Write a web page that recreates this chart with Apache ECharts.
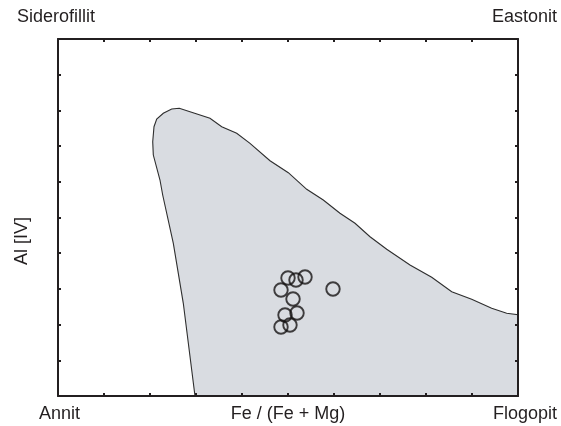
<!DOCTYPE html>
<html>
<head>
<meta charset="utf-8">
<script src="https://cdn.jsdelivr.net/npm/echarts@6/dist/echarts.min.js"></script>
<style>
html,body{margin:0;padding:0;background:#fff;}
#chart{width:561px;height:426px;}
</style>
</head>
<body>
<div id="chart"></div>
<script>
// Field outline (Fe/(Fe+Mg), Al[IV]) in axis units 0..1
const fieldX = [0.2978,0.2724,0.2507,0.2276,0.2217,0.2072,0.2059,0.2087,0.2146,0.2289,0.2472,0.2637,0.2870,0.3304,0.3559,0.3885,0.4174,0.4609,0.5007,0.5407,0.5767,0.6130,0.6457,0.6783,0.7146,0.7652,0.8124,0.8559,0.8993,0.9428,0.9754,1.0,1.0];
const fieldY = [0.0,0.2597,0.4277,0.5630,0.6050,0.6750,0.7123,0.7543,0.7759,0.7919,0.8039,0.8059,0.7964,0.7779,0.7543,0.7359,0.7078,0.6591,0.6255,0.5790,0.5490,0.5118,0.4838,0.4462,0.4109,0.3669,0.3325,0.2922,0.2709,0.2457,0.2317,0.2277,0.0];
// Samples
const sampleX = [0.5000,0.5174,0.5370,0.4848,0.5978,0.5109,0.5196,0.4935,0.5043,0.4848];
const sampleY = [0.3305,0.3249,0.3333,0.2969,0.2997,0.2717,0.2325,0.2269,0.1989,0.1933];
// Texts
const cornerTopLeft = 'Siderofillit';
const cornerTopRight = 'Eastonit';
const cornerBottomLeft = 'Annit';
const cornerBottomRight = 'Flogopit';
const xTitle = 'Fe / (Fe + Mg)';
const yTitle = 'Al [IV]';

const ink = '#231f20';
const font = '"Liberation Sans", Arial, Helvetica, sans-serif';
const chart = echarts.init(document.getElementById('chart'), null, {renderer:'canvas'});

function axisCommon(pos){
  return {
    type:'value', min:0, max:1, interval:0.1, position:pos, z:5,
    axisLine:{show:true, onZero:false, lineStyle:{color:ink, width:2}},
    axisTick:{show:true, inside:true, length:3, lineStyle:{color:ink, width:2}},
    axisLabel:{show:false}, splitLine:{show:false}
  };
}
const txt = {fontFamily:font, fontSize:18, fill:ink};

chart.setOption({
  animation:false,
  backgroundColor:'#fff',
  grid:{left:58, top:39, right:43, bottom:30},
  xAxis:[axisCommon('bottom'), axisCommon('top')],
  yAxis:[axisCommon('left'), axisCommon('right')],
  series:[
    {
      type:'custom', z:1, silent:true,
      data:[0],
      renderItem:function(params, api){
        const pts = fieldX.map((x,i)=>api.coord([x, fieldY[i]]));
        return {type:'polygon', shape:{points:pts},
          style:{fill:'#d9dce1', stroke:'#2e2e2e', lineWidth:1.1}};
      }
    },
    {
      type:'scatter', z:3, silent:true,
      symbol:'circle', symbolSize:13.5,
      data:sampleX.map((x,i)=>[x, sampleY[i]]),
      itemStyle:{color:'rgba(0,0,0,0)', borderColor:'#161414', borderWidth:1.9}
    }
  ],
  graphic:[
    {type:'text', left:17, top:8, style:Object.assign({text:cornerTopLeft}, txt)},
    {type:'text', right:4, top:8, style:Object.assign({text:cornerTopRight}, txt)},
    {type:'text', left:39, top:405, style:Object.assign({text:cornerBottomLeft}, txt)},
    {type:'text', right:4, top:405, style:Object.assign({text:cornerBottomRight}, txt)},
    {type:'text', x:288, y:414, style:Object.assign({text:xTitle, align:'center', verticalAlign:'middle'}, txt)},
    {type:'text', x:22, y:241, rotation:Math.PI/2, style:Object.assign({text:yTitle, align:'center', verticalAlign:'middle'}, txt)}
  ]
});
</script>
</body>
</html>
